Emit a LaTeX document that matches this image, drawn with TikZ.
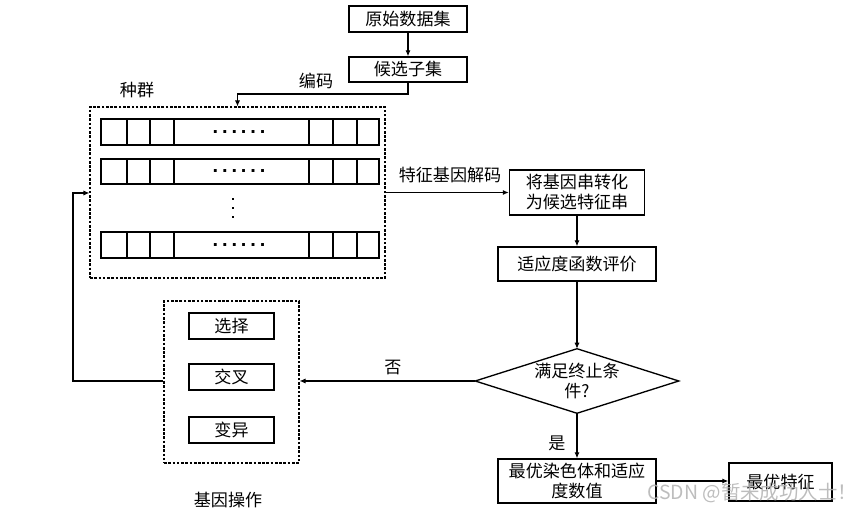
\documentclass[tikz,border=0pt]{standalone}
\usepackage{fontspec}
\setmainfont{Noto Sans CJK SC}
\newfontfamily\latinf{Liberation Sans}
\usetikzlibrary{arrows.meta}
\newcommand\mainf{\fontsize{12.8pt}{15pt}\selectfont}
\newcommand\mydotrow{.\hspace{2.9pt}.\hspace{2.9pt}.\hspace{2.9pt}.\hspace{2.9pt}.\hspace{2.9pt}.}
\begin{document}
\begin{tikzpicture}[x=0.75pt,y=-0.75pt,
  box/.style={draw,line width=1pt,inner sep=0pt,align=center,font=\mainf},
  dbox/.style={draw,line width=0.8pt,dash pattern=on 2pt off 1.2pt,inner sep=0pt},
  lbl/.style={inner sep=0pt,font=\mainf},
  arr/.style={line width=0.8pt,-{Latex[length=4.5pt,width=3.8pt]}},
  cell/.style={line width=1pt},
  dotsty/.style={inner sep=0pt,font=\fontsize{15pt}{6.75pt}\selectfont\latinf\bfseries,align=center},
  vdot/.style={fill=black,draw=none,minimum size=2.2pt,inner sep=0pt},
  wm/.style={inner sep=0pt,font=\fontsize{14.6pt}{16pt}\selectfont,text=gray!60,text opacity=0.85}]
\useasboundingbox (0,0) rectangle (865,513);
% nodes
\node[box,minimum width=88.5pt,minimum height=19.5pt] (orig) at (408,19) {原始数据集};
\node[box,minimum width=88.5pt,minimum height=18.75pt] (cand) at (408,69.5) {候选子集};
\node[dbox,minimum width=221.25pt,minimum height=128.25pt] (pop) at (237.5,192.5) {};
\node[box,minimum width=101.25pt,minimum height=33.75pt] (trans) at (577,192.5) {将基因串转化\\为候选特征串};
\node[box,minimum width=118.5pt,minimum height=25.5pt] (fit) at (577,264) {适应度函数评价};
\node[inner sep=0pt,align=center,font=\mainf,minimum width=152.25pt,minimum height=48pt] (cond) at (577,381) {满足终止条\\件?};
\draw[line width=1pt] (cond.west) -- (cond.north) -- (cond.east) -- (cond.south) -- cycle;
\node[dbox,minimum width=101.25pt,minimum height=121.5pt] (ops) at (231.5,382) {};
\node[box,minimum width=63.75pt,minimum height=19.5pt] (sel) at (231.5,326) {选择};
\node[box,minimum width=63.75pt,minimum height=19.5pt] (cross) at (231.5,377) {交叉};
\node[box,minimum width=63.75pt,minimum height=19.5pt] (mut) at (231.5,430) {变异};
\node[box,minimum width=118.5pt,minimum height=33pt] (best) at (577,481) {最优染色体和适应\\度数值};
\node[box,minimum width=77.25pt,minimum height=28.5pt] (feat) at (780.5,482) {最优特征};
% population rows
\foreach \ya/\yb in {119/145,159/184,232/258} {
  \draw[cell] (101,\ya) rectangle (379,\yb);
  \foreach \x in {127,150,174,309,333,357} \draw[cell] (\x,\ya) -- (\x,\yb);
  \node[dotsty] (d\ya) at (239,{(\ya+\yb)/2}) {\mydotrow};
}
\node[vdot] (vd1) at (233,199) {};
\node[vdot] (vd2) at (233,208) {};
\node[vdot] (vd3) at (233,217) {};
% labels
\node[lbl] (lenc) at (316,81) {编码};
\node[lbl] (lpop) at (137,90) {种群};
\node[lbl] (ldec) at (450,175) {特征基因解码};
\node[lbl] (lno) at (393,368) {否};
\node[lbl] (lyes) at (557,443) {是};
\node[lbl] (lops) at (228,500) {基因操作};
% connectors
\coordinate (c1) at (408,94);
\coordinate (fb2) at (73,193);
\draw[arr] (orig) -- (cand);
\draw[arr] (cand.south) -- (c1) -- (pop.north |- c1) -- (pop.north);
\draw[arr] (pop.east) -- (trans.west);
\draw[arr] (trans.south) -- (fit.north);
\draw[arr] (fit.south) -- (cond.north);
\draw[arr] (cond.west) -- (ops.east |- cond.west);
\draw[arr] (cond.south) -- (best.north);
\draw[arr] (best.east) -- (feat.west |- best.east);
\draw[arr] (ops.west |- cond.west) -| (fb2) -- (pop.west |- fb2);
% watermark
\node[wm,anchor=west] (wmk) at (647,493) {CSDN @暂未成功人士！};
\end{tikzpicture}
\end{document}
